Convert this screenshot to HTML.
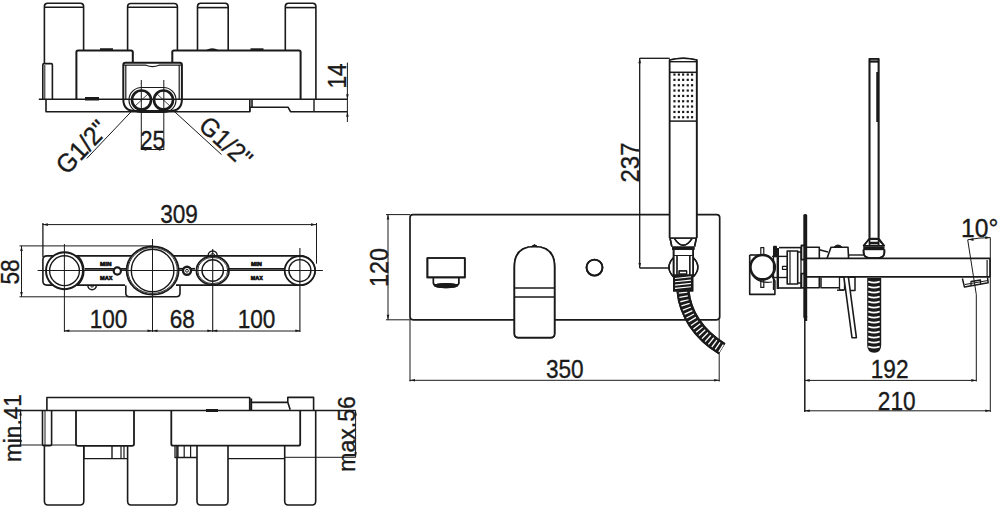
<!DOCTYPE html>
<html><head><meta charset="utf-8">
<style>
html,body{margin:0;padding:0;background:#fff;width:1000px;height:512px;overflow:hidden}
svg{display:block}
text{font-family:"Liberation Sans",sans-serif;fill:#1a1a1a;stroke:#1a1a1a;stroke-width:0.35px}
</style></head><body>
<svg width="1000" height="512" viewBox="0 0 1000 512">
<rect width="1000" height="512" fill="#fff"/>
<g fill="none" stroke="#1a1a1a" stroke-width="1.6" stroke-linejoin="round">

<!-- ============ VIEW A : top elevation ============ -->
<g id="A">
  <!-- handles -->
  <path d="M44.4,63 V6.5 Q44.4,3.2 47.5,3.2 H80.5 Q83.6,3.2 83.6,6.5 V50"/>
  <line x1="44.4" y1="7.3" x2="83.6" y2="7.3"/>
  <path d="M127.6,50 V6.5 Q127.6,3.5 130.8,3.5 H174.2 Q177.4,3.5 177.4,6.5 V50"/>
  <line x1="127.6" y1="7.3" x2="177.4" y2="7.3"/>
  <path d="M197.5,50 V6.5 Q197.5,3.2 200.6,3.2 H225.1 Q228.2,3.2 228.2,6.5 V50"/>
  <line x1="197.5" y1="7.6" x2="228.2" y2="7.6"/>
  <path d="M285.3,50 V6.5 Q285.3,3.2 288.4,3.2 H312.8 Q315.9,3.2 315.9,6.5 V99"/>
  <line x1="285.3" y1="7.6" x2="315.9" y2="7.6"/>
  <!-- body boxes -->
  <path d="M76.4,99 V52 Q76.4,50.4 78,50.4 H131 Q132.8,50.4 132.8,52 V62.7" stroke-width="2"/>
  <path d="M172.3,62.7 V52 Q172.3,50.4 174,50.4 H299 Q300.6,50.4 300.6,52 V99" stroke-width="2"/>
  <line x1="100" y1="49.5" x2="113" y2="49.5" stroke-width="2.5"/>
  <path d="M206.5,50.6 Q212.3,47.6 218,50.6" stroke-width="1.6"/>
  <line x1="250.5" y1="49.4" x2="263.5" y2="49.4" stroke-width="2.2"/>
  <!-- connection box -->
  <path d="M123.3,99 V65 Q123.3,62.7 125.5,62.7 H179.7 Q181.9,62.7 181.9,65 V99 Q181.9,111 170,111 H135 Q123.3,111 123.3,99 Z" stroke-width="2"/>
  <line x1="125.8" y1="65" x2="125.8" y2="99" stroke-width="1.2"/>
  <line x1="179.2" y1="65" x2="179.2" y2="99" stroke-width="1.2"/>
  <path d="M124,65.2 H146 Q152.5,68 159,65.2 H181" stroke-width="1.2"/>
  <!-- small post -->
  <path d="M42.8,99.6 V65 Q42.8,63.6 44,63.6 H51.2 Q52.4,63.6 52.4,65 V99.6"/>
  <line x1="44.8" y1="65" x2="44.8" y2="99" stroke-width="1"/>
  <!-- baseline and plate -->
  <line x1="38.8" y1="99.3" x2="347.4" y2="99.3" stroke-width="1.5"/>
  <path d="M46,99.3 V111.7 H249.8 V107.2 H288 L290.5,111.7 H347.4"/>
  <line x1="252" y1="99.3" x2="252" y2="107.2"/>
  <line x1="249.8" y1="99.3" x2="249.8" y2="111.7"/>
  <line x1="314" y1="99.3" x2="314" y2="111.7" stroke-width="1.4"/>
  <rect x="85" y="97" width="14" height="3.5" fill="#1a1a1a" stroke="none"/>
  <!-- fittings -->
  <path d="M141.5,87.5 H163.5 A12.5,12.5 0 0 1 163.5,112.5 H141.5 A12.5,12.5 0 0 1 141.5,87.5 Z" stroke-width="1.2"/>
  <circle cx="141.5" cy="100" r="9.5" stroke-width="2.6"/>
  <circle cx="163.5" cy="100" r="9.5" stroke-width="2.6"/>
  <line x1="141.3" y1="80" x2="141.3" y2="150" stroke-width="1"/>
  <line x1="163.8" y1="80" x2="163.8" y2="150" stroke-width="1"/>
  <line x1="134" y1="107" x2="149" y2="93" stroke-width="0.8"/>
  <line x1="156" y1="93" x2="171" y2="107" stroke-width="0.8"/>
  <!-- dims -->
  <line x1="347.4" y1="62.6" x2="347.4" y2="122" stroke-width="1"/>
  <line x1="141" y1="149.5" x2="164" y2="149.5" stroke-width="1"/>
  <line x1="132.4" y1="110.4" x2="86.8" y2="158.4" stroke-width="1"/>
  <line x1="173.2" y1="110.4" x2="221.5" y2="154.6" stroke-width="1"/>
</g>

<!-- ============ VIEW B : plan ============ -->
<g id="B">
  <!-- body outline -->
  <path d="M47,255.9 H300.3 A14.6,14.6 0 0 1 300.3,285.1 H176 M125,285.1 H47 Q42.9,285.1 42.9,281 V260 Q42.9,255.9 47,255.9" stroke-width="1.6"/>
  <path d="M78,255.9 A21,21 0 0 1 78,285.1" stroke-width="1.4"/>
  <circle cx="64.5" cy="270.7" r="18.5" fill="#fff" stroke-width="1.9"/>
  <circle cx="64.5" cy="270.7" r="14.9" stroke-width="1.4"/>
  <path d="M125.8,285.5 V293 Q125.8,296.8 129.5,296.8 H176.3 Q180,296.8 180,293 V285.5" stroke-width="1.6"/>
  <ellipse cx="152.6" cy="270.5" rx="26" ry="24.1" fill="#fff" stroke-width="1.8"/>
  <ellipse cx="152.6" cy="270.5" rx="24.7" ry="22.9" stroke-width="0.9"/>
  <circle cx="152.6" cy="270.5" r="21.3" stroke-width="1.4"/>
  <ellipse cx="212.7" cy="270.5" rx="16.3" ry="14.3" fill="#fff" stroke-width="1.8"/>
  <ellipse cx="212.7" cy="270.5" rx="15" ry="13.2" stroke-width="0.9"/>
  <circle cx="212.7" cy="270.5" r="10.7" stroke-width="1.4"/>
  <ellipse cx="299.9" cy="270.6" rx="15.2" ry="14.6" fill="#fff" stroke-width="1.8"/>
  <circle cx="299.9" cy="270.6" r="11" stroke-width="1.4"/>
  <path d="M208.2,255.5 A4.5,4.5 0 0 1 217.2,255.5" stroke-width="1.5"/>
  <path d="M210.7,255.5 A2,2 0 0 1 214.7,255.5" stroke-width="1"/>
  <path d="M87.9,285.6 A4.2,4.2 0 0 0 96.3,285.6" stroke-width="1.5"/>
  <path d="M90.6,285.6 A1.5,1.5 0 0 0 93.6,285.6" stroke-width="1"/>
  <!-- centre lines -->
  <line x1="37.6" y1="270.5" x2="322.9" y2="270.5" stroke-width="1"/>
  <line x1="84.8" y1="268.8" x2="126" y2="268.8" stroke-width="1.8"/>
  <line x1="229" y1="268.8" x2="284" y2="268.8" stroke-width="1.8"/>
  <line x1="179" y1="268.8" x2="195" y2="268.8" stroke-width="1.8"/>
  <circle cx="117.3" cy="271" r="3.6" fill="#fff" stroke-width="2.2"/>
  <circle cx="187" cy="270.8" r="4" fill="#fff" stroke-width="2.4"/>
  <circle cx="187" cy="270.8" r="1.4" stroke-width="1"/>
  <line x1="64.4" y1="244" x2="64.4" y2="332" stroke-width="1"/>
  <line x1="152.5" y1="239" x2="152.5" y2="332" stroke-width="1"/>
  <line x1="212.7" y1="249" x2="212.7" y2="332" stroke-width="1.1"/>
  <line x1="299.9" y1="248" x2="299.9" y2="332" stroke-width="1.1"/>
  <!-- MIN / MAX marks -->
  <g fill="#1a1a1a" stroke="none">
    <text x="105.8" y="265.8" font-size="6.2" font-weight="bold" style="stroke-width:0.7px" text-anchor="middle" textLength="11.5" lengthAdjust="spacingAndGlyphs">MIN</text>
    <text x="106.3" y="280.2" font-size="6.2" font-weight="bold" style="stroke-width:0.7px" text-anchor="middle" textLength="12.5" lengthAdjust="spacingAndGlyphs">MAX</text>
    <text x="256.4" y="265.8" font-size="6.2" font-weight="bold" style="stroke-width:0.7px" text-anchor="middle" textLength="11" lengthAdjust="spacingAndGlyphs">MIN</text>
    <text x="256.8" y="280.2" font-size="6.2" font-weight="bold" style="stroke-width:0.7px" text-anchor="middle" textLength="12" lengthAdjust="spacingAndGlyphs">MAX</text>
  </g>
  <!-- 309 dim -->
  <line x1="42.5" y1="224.6" x2="316.5" y2="224.6" stroke-width="1"/>
  <line x1="42.9" y1="223" x2="42.9" y2="257" stroke-width="1.3"/>
  <line x1="316.5" y1="223" x2="316.5" y2="263.7" stroke-width="1"/>
  <!-- 58 dim -->
  <line x1="21.5" y1="245.9" x2="21.5" y2="297" stroke-width="1"/>
  <line x1="19.5" y1="245.9" x2="152.5" y2="245.9" stroke-width="1"/>
  <line x1="19.5" y1="296.8" x2="152.5" y2="296.8" stroke-width="1"/>
  <!-- 100 68 100 dim -->
  <line x1="64.4" y1="331" x2="300.3" y2="331" stroke-width="1"/>
</g>

<!-- ============ VIEW C : bottom elevation ============ -->
<g id="C">
  <path d="M46.9,410.4 V397.5 H249.7 V410.4 M251.4,398.5 V410.4 M251.4,402.4 H287.8 V397.4 H313.6 V410.4 M287.8,402.2 L290.2,409.8"/>
  <line x1="19.3" y1="410.4" x2="355.6" y2="410.4" stroke-width="1.5"/>
  <line x1="20.6" y1="410.4" x2="20.6" y2="445" stroke-width="1"/>
  <line x1="19.3" y1="445" x2="76" y2="445" stroke-width="1"/>
  <line x1="355.6" y1="410.4" x2="355.6" y2="457.3" stroke-width="1"/>
  <line x1="285" y1="457.3" x2="355.6" y2="457.3" stroke-width="1"/>
  <!-- bodies -->
  <path d="M76,410.4 V444 Q76,445.8 78,445.8 H132 Q134,445.8 134,444 V410.4" stroke-width="1.8"/>
  <path d="M171.3,410.4 V444 Q171.3,445.7 173,445.7 H298.5 Q300.2,445.7 300.2,444 V410.4" stroke-width="1.8"/>
  <!-- small post -->
  <path d="M42.5,410.4 V444.5 Q42.5,445.8 44,445.8 H50 Q51.6,445.8 51.6,444.5 V410.4"/>
  <line x1="45" y1="411" x2="45" y2="445" stroke-width="1"/>
  <!-- handles -->
  <path d="M44.4,445.8 V501 Q44.4,505 48,505 H80 Q83.8,505 83.8,501 V445.8"/>
  <path d="M127.6,445.8 V501 Q127.6,505 131,505 H173.5 Q177,505 177,501 V445.8"/>
  <path d="M197,445.7 V501 Q197,505 200.5,505 H224.5 Q228,505 228,501 V445.7"/>
  <path d="M284.7,445.7 V501 Q284.7,505 288.2,505 H312.2 Q315.7,505 315.7,501 V410.4"/>
  <!-- under boxes -->
  <path d="M83.8,445.8 V458.6 H127.6" stroke-width="1.4"/>
  <line x1="112" y1="446" x2="112" y2="458.6" stroke-width="1.4"/>
  <line x1="121" y1="446" x2="121" y2="458.6" stroke-width="1.2"/>
  <line x1="124" y1="446" x2="124" y2="458.6" stroke-width="1.2"/>
  <path d="M228,458.6 H284.7" stroke-width="1.4"/>
  <path d="M175,446 V457.5 H197" stroke-width="1.3"/>
  <line x1="178" y1="446" x2="178" y2="457.5" stroke-width="1.2"/>
  <line x1="184.2" y1="446" x2="184.2" y2="457.5" stroke-width="1.2"/>
  <line x1="190.6" y1="446" x2="190.6" y2="457.5" stroke-width="1.2"/>
  <rect x="206" y="409" width="12" height="3" fill="#1a1a1a" stroke="none"/>
</g>

<!-- ============ VIEW D : front ============ -->
<g id="D">
  <rect x="410" y="214.6" width="309.7" height="105.2" rx="3" stroke-width="1.7"/>
  <!-- 120 dim -->
  <line x1="388" y1="214.6" x2="388" y2="319.8" stroke-width="1"/>
  <line x1="386" y1="214.6" x2="410" y2="214.6" stroke-width="1"/>
  <line x1="386" y1="319.8" x2="410" y2="319.8" stroke-width="1"/>
  <!-- 350 dim -->
  <line x1="410" y1="319.8" x2="410" y2="381.5" stroke-width="1"/>
  <line x1="719.2" y1="319.8" x2="719.2" y2="381.5" stroke-width="1"/>
  <line x1="409.5" y1="380.3" x2="719.6" y2="380.3" stroke-width="1"/>
  <!-- spout -->
  <rect x="427.4" y="258" width="37.4" height="19.4" stroke-width="1.7"/>
  <path d="M433.4,277.4 V283 Q433.4,285 436,285 H456 Q458.8,285 458.8,283 V277.4" stroke-width="1.4"/>
  <ellipse cx="446" cy="285.6" rx="12.3" ry="2.6" fill="#1a1a1a" stroke="none"/>
  <!-- lever -->
  <path d="M514.4,267 Q514.4,246.5 534.5,246.5 Q554.6,246.5 554.6,267 V333.5 Q554.6,337.6 550.5,337.6 H518.5 Q514.4,337.6 514.4,333.5 Z" fill="#fff" stroke-width="1.7"/>
  <path d="M531,246.8 L534.5,244.8 L538,246.8 Z" fill="#1a1a1a" stroke-width="1"/>
  <line x1="514.4" y1="288.1" x2="554.6" y2="288.1" stroke-width="1.5"/>
  <line x1="514.4" y1="297.1" x2="554.6" y2="297.1" stroke-width="1.5"/>
  <circle cx="594.5" cy="267.6" r="8" stroke-width="1.8"/>
  <!-- 237 dim -->
  <line x1="639.7" y1="58.3" x2="639.7" y2="268" stroke-width="1"/>
  <line x1="639.7" y1="58.3" x2="669.6" y2="58.3" stroke-width="1"/>
  <line x1="639.7" y1="268" x2="670" y2="268" stroke-width="1"/>
  <!-- hand shower -->
  <path d="M669.7,238 V60 Q683.2,56.5 696.7,60 V238" fill="#fff" stroke-width="1.7"/>
  <line x1="669.7" y1="61.7" x2="696.7" y2="61.7" stroke-width="1.4"/>
  <line x1="669.7" y1="72.3" x2="696.7" y2="72.3" stroke-width="1.5"/>
  <line x1="669.7" y1="121.1" x2="696.7" y2="121.1" stroke-width="1.5"/>
  <path d="M669.7,238 H696.7 M670,238 L671.8,246.5 M696.4,238 L694.6,246.5" stroke-width="1.5"/>
  <path d="M674.5,238.6 Q683.2,252 692,238.6" stroke-width="1.4"/>
  <rect x="672" y="246.5" width="22.5" height="3.3" fill="#1a1a1a" stroke="none"/>
  <path d="M673.6,249.8 V277 M693.2,249.8 V277" stroke-width="1.6"/>
  <path d="M677,256 V276 M689.8,256 V276 M673.6,255.5 H693.2" stroke-width="1.2"/>
  <path d="M673.4,257.8 Q664.5,267.3 673.4,276.8" stroke-width="1.4"/>
  <path d="M693.4,257.8 Q702.3,267.3 693.4,276.8" stroke-width="1.4"/>
  <rect x="679.1" y="270.8" width="7.5" height="3.4" stroke-width="1.2"/>
  <!-- hose -->
  <path d="M683,291 C685,313 698,334 722,348.8" stroke="#1a1a1a" stroke-width="13" stroke-linecap="butt"/>
  <path d="M683,292 C685,313 698,334 722,348.8" stroke="#fff" stroke-width="8.5" stroke-dasharray="1.3 2.8"/>
  <rect x="673" y="274.5" width="20.3" height="17" fill="#1a1a1a" stroke="none"/>
  <g stroke="#fff" stroke-width="1.1"><line x1="675" y1="278.5" x2="691" y2="276.8"/><line x1="675" y1="281.8" x2="691" y2="280.1"/><line x1="675" y1="285.1" x2="691" y2="283.4"/><line x1="675" y1="288.4" x2="691" y2="286.7"/></g>

  <g fill="#1a1a1a" stroke="none"><rect x="673.35" y="73.45" width="2.2" height="2.2"/><rect x="677.75" y="73.45" width="2.2" height="2.2"/><rect x="682.05" y="73.45" width="2.2" height="2.2"/><rect x="686.65" y="73.45" width="2.2" height="2.2"/><rect x="690.95" y="73.45" width="2.2" height="2.2"/><rect x="673.35" y="78.75" width="2.2" height="2.2"/><rect x="677.75" y="78.75" width="2.2" height="2.2"/><rect x="682.05" y="78.75" width="2.2" height="2.2"/><rect x="686.65" y="78.75" width="2.2" height="2.2"/><rect x="690.95" y="78.75" width="2.2" height="2.2"/><rect x="673.35" y="84.15" width="2.2" height="2.2"/><rect x="677.75" y="84.15" width="2.2" height="2.2"/><rect x="682.05" y="84.15" width="2.2" height="2.2"/><rect x="686.65" y="84.15" width="2.2" height="2.2"/><rect x="690.95" y="84.15" width="2.2" height="2.2"/><rect x="673.35" y="89.45" width="2.2" height="2.2"/><rect x="677.75" y="89.45" width="2.2" height="2.2"/><rect x="682.05" y="89.45" width="2.2" height="2.2"/><rect x="686.65" y="89.45" width="2.2" height="2.2"/><rect x="690.95" y="89.45" width="2.2" height="2.2"/><rect x="673.35" y="94.85" width="2.2" height="2.2"/><rect x="677.75" y="94.85" width="2.2" height="2.2"/><rect x="682.05" y="94.85" width="2.2" height="2.2"/><rect x="686.65" y="94.85" width="2.2" height="2.2"/><rect x="690.95" y="94.85" width="2.2" height="2.2"/><rect x="673.35" y="100.15" width="2.2" height="2.2"/><rect x="677.75" y="100.15" width="2.2" height="2.2"/><rect x="682.05" y="100.15" width="2.2" height="2.2"/><rect x="686.65" y="100.15" width="2.2" height="2.2"/><rect x="690.95" y="100.15" width="2.2" height="2.2"/><rect x="673.35" y="105.45" width="2.2" height="2.2"/><rect x="677.75" y="105.45" width="2.2" height="2.2"/><rect x="682.05" y="105.45" width="2.2" height="2.2"/><rect x="686.65" y="105.45" width="2.2" height="2.2"/><rect x="690.95" y="105.45" width="2.2" height="2.2"/><rect x="673.35" y="110.85" width="2.2" height="2.2"/><rect x="677.75" y="110.85" width="2.2" height="2.2"/><rect x="682.05" y="110.85" width="2.2" height="2.2"/><rect x="686.65" y="110.85" width="2.2" height="2.2"/><rect x="690.95" y="110.85" width="2.2" height="2.2"/><rect x="673.35" y="116.15" width="2.2" height="2.2"/><rect x="677.75" y="116.15" width="2.2" height="2.2"/><rect x="682.05" y="116.15" width="2.2" height="2.2"/><rect x="686.65" y="116.15" width="2.2" height="2.2"/><rect x="690.95" y="116.15" width="2.2" height="2.2"/></g>
</g>

<!-- ============ VIEW E : side ============ -->
<g id="E">
  <!-- vertical shower rod -->
  <path d="M869.5,245.5 V58.8 H878.6 V245.5" stroke-width="1.7"/>
  <line x1="869.5" y1="61.5" x2="878.6" y2="61.5" stroke-width="1.8"/>
  <line x1="877.6" y1="72" x2="877.6" y2="122" stroke-width="2.2"/>
  <line x1="869.5" y1="238.5" x2="878.6" y2="238.5" stroke-width="1.5"/>
  <line x1="869.5" y1="243.6" x2="878.6" y2="243.6" stroke-width="1.5"/>
  <path d="M869.5,238.2 L863.7,245.8 H884.3 L878.6,238.2" stroke-width="1.6"/>
  <rect x="863.5" y="247" width="21" height="3.2" fill="#1a1a1a" stroke="none"/>
  <path d="M863.7,250.3 V252.5 Q863.7,258 871,258 H877 Q884.3,258 884.3,252.5 V250.3" stroke-width="1.7"/>
  <!-- spout -->
  <rect x="427.4" y="258" width="37.4" height="19.4" stroke-width="1.7"/>
  <path d="M433.4,277.4 V283 Q433.4,285 436,285 H456 Q458.8,285 458.8,283 V277.4" stroke-width="1.4"/>
  <ellipse cx="446" cy="285.6" rx="12.3" ry="2.6" fill="#1a1a1a" stroke="none"/>
  <!-- lever -->
  <path d="M514.4,267 Q514.4,246.5 534.5,246.5 Q554.6,246.5 554.6,267 V333.5 Q554.6,337.6 550.5,337.6 H518.5 Q514.4,337.6 514.4,333.5 Z" fill="#fff" stroke-width="1.7"/>
  <path d="M531,246.8 L534.5,244.8 L538,246.8 Z" fill="#1a1a1a" stroke-width="1"/>
  <line x1="514.4" y1="288.1" x2="554.6" y2="288.1" stroke-width="1.5"/>
  <line x1="514.4" y1="297.1" x2="554.6" y2="297.1" stroke-width="1.5"/>
  <circle cx="594.5" cy="267.6" r="8" stroke-width="1.8"/>
  <!-- 237 dim -->
  <line x1="639.7" y1="58.3" x2="639.7" y2="268" stroke-width="1"/>
  <line x1="639.7" y1="58.3" x2="669.6" y2="58.3" stroke-width="1"/>
  <line x1="639.7" y1="268" x2="670" y2="268" stroke-width="1"/>
  <!-- hand shower -->
  <path d="M669.7,238 V60 Q683.2,56.5 696.7,60 V238" fill="#fff" stroke-width="1.7"/>
  <line x1="669.7" y1="61.7" x2="696.7" y2="61.7" stroke-width="1.4"/>
  <line x1="669.7" y1="72.3" x2="696.7" y2="72.3" stroke-width="1.5"/>
  <line x1="669.7" y1="121.1" x2="696.7" y2="121.1" stroke-width="1.5"/>
  <path d="M669.7,238 H696.7 M670,238 L671.8,246.5 M696.4,238 L694.6,246.5" stroke-width="1.5"/>
  <path d="M674.5,238.6 Q683.2,252 692,238.6" stroke-width="1.4"/>
  <rect x="672" y="246.5" width="22.5" height="3.3" fill="#1a1a1a" stroke="none"/>
  <path d="M673.6,249.8 V277 M693.2,249.8 V277" stroke-width="1.6"/>
  <path d="M677,256 V276 M689.8,256 V276 M673.6,255.5 H693.2" stroke-width="1.2"/>
  <path d="M673.4,257.8 Q664.5,267.3 673.4,276.8" stroke-width="1.4"/>
  <path d="M693.4,257.8 Q702.3,267.3 693.4,276.8" stroke-width="1.4"/>
  <rect x="679.1" y="270.8" width="7.5" height="3.4" stroke-width="1.2"/>
  <!-- hose -->
  <path d="M683,291 C685,313 698,334 722,348.8" stroke="#1a1a1a" stroke-width="13" stroke-linecap="butt"/>
  <path d="M683,292 C685,313 698,334 722,348.8" stroke="#fff" stroke-width="8.5" stroke-dasharray="1.3 2.8"/>
  <rect x="673" y="274.5" width="20.3" height="17" fill="#1a1a1a" stroke="none"/>
  <g stroke="#fff" stroke-width="1.1"><line x1="675" y1="278.5" x2="691" y2="276.8"/><line x1="675" y1="281.8" x2="691" y2="280.1"/><line x1="675" y1="285.1" x2="691" y2="283.4"/><line x1="675" y1="288.4" x2="691" y2="286.7"/></g>

  <g fill="#1a1a1a" stroke="none"><rect x="673.35" y="73.45" width="2.2" height="2.2"/><rect x="677.75" y="73.45" width="2.2" height="2.2"/><rect x="682.05" y="73.45" width="2.2" height="2.2"/><rect x="686.65" y="73.45" width="2.2" height="2.2"/><rect x="690.95" y="73.45" width="2.2" height="2.2"/><rect x="673.35" y="78.75" width="2.2" height="2.2"/><rect x="677.75" y="78.75" width="2.2" height="2.2"/><rect x="682.05" y="78.75" width="2.2" height="2.2"/><rect x="686.65" y="78.75" width="2.2" height="2.2"/><rect x="690.95" y="78.75" width="2.2" height="2.2"/><rect x="673.35" y="84.15" width="2.2" height="2.2"/><rect x="677.75" y="84.15" width="2.2" height="2.2"/><rect x="682.05" y="84.15" width="2.2" height="2.2"/><rect x="686.65" y="84.15" width="2.2" height="2.2"/><rect x="690.95" y="84.15" width="2.2" height="2.2"/><rect x="673.35" y="89.45" width="2.2" height="2.2"/><rect x="677.75" y="89.45" width="2.2" height="2.2"/><rect x="682.05" y="89.45" width="2.2" height="2.2"/><rect x="686.65" y="89.45" width="2.2" height="2.2"/><rect x="690.95" y="89.45" width="2.2" height="2.2"/><rect x="673.35" y="94.85" width="2.2" height="2.2"/><rect x="677.75" y="94.85" width="2.2" height="2.2"/><rect x="682.05" y="94.85" width="2.2" height="2.2"/><rect x="686.65" y="94.85" width="2.2" height="2.2"/><rect x="690.95" y="94.85" width="2.2" height="2.2"/><rect x="673.35" y="100.15" width="2.2" height="2.2"/><rect x="677.75" y="100.15" width="2.2" height="2.2"/><rect x="682.05" y="100.15" width="2.2" height="2.2"/><rect x="686.65" y="100.15" width="2.2" height="2.2"/><rect x="690.95" y="100.15" width="2.2" height="2.2"/><rect x="673.35" y="105.45" width="2.2" height="2.2"/><rect x="677.75" y="105.45" width="2.2" height="2.2"/><rect x="682.05" y="105.45" width="2.2" height="2.2"/><rect x="686.65" y="105.45" width="2.2" height="2.2"/><rect x="690.95" y="105.45" width="2.2" height="2.2"/><rect x="673.35" y="110.85" width="2.2" height="2.2"/><rect x="677.75" y="110.85" width="2.2" height="2.2"/><rect x="682.05" y="110.85" width="2.2" height="2.2"/><rect x="686.65" y="110.85" width="2.2" height="2.2"/><rect x="690.95" y="110.85" width="2.2" height="2.2"/><rect x="673.35" y="116.15" width="2.2" height="2.2"/><rect x="677.75" y="116.15" width="2.2" height="2.2"/><rect x="682.05" y="116.15" width="2.2" height="2.2"/><rect x="686.65" y="116.15" width="2.2" height="2.2"/><rect x="690.95" y="116.15" width="2.2" height="2.2"/></g>
</g>

<!-- ============ VIEW E : side ============ -->
<g id="E">
  <!-- vertical shower rod -->
  <path d="M869.5,237.6 V58.8 H878.6 V237.6" stroke-width="1.6"/>
  <line x1="869.5" y1="61.5" x2="878.6" y2="61.5" stroke-width="1.8"/>
  <line x1="877.6" y1="72" x2="877.6" y2="122" stroke-width="2.2"/>
  <line x1="869.3" y1="239.3" x2="878.1" y2="239.3" stroke-width="1.5"/>
  <line x1="869.3" y1="242.5" x2="878.1" y2="242.5" stroke-width="1.5"/>
  <path d="M869.3,239.3 L863.5,245.8 H884 L878.1,239.3" stroke-width="1.5"/>
  <rect x="863.5" y="246.5" width="20.5" height="3" fill="#1a1a1a" stroke="none"/>
  <path d="M863.5,249.3 V252 Q863.5,258 870,258 H878 Q884.5,258 884.5,252 V249.3" stroke-width="1.6"/>
  <!-- spout -->
  <line x1="806" y1="258.3" x2="990" y2="258.3" stroke-width="1.8"/>
  <line x1="806" y1="276.8" x2="990" y2="276.8" stroke-width="1.8"/>
  <line x1="990" y1="258.3" x2="990" y2="276.8" stroke-width="1.6"/>
  <line x1="987.1" y1="260" x2="987.1" y2="276" stroke-width="1.2"/>
  <path d="M962.4,278.5 L964.5,287.1 L988.2,282.8 L987.5,277.5" stroke-width="1.5"/>
  <path d="M971,286 V281.5 L980.5,280 V284.5" stroke-width="1.3"/>
  <line x1="965" y1="284.5" x2="988" y2="280.5" stroke-width="1.2"/>
  <!-- wall plate -->
  <rect x="803.3" y="214" width="3.9" height="104.5" rx="1.5" fill="#1a1a1a" stroke="none"/>
  <rect x="804.3" y="316" width="2.9" height="5" fill="#1a1a1a" stroke="none"/>
  <path d="M804,245.5 H801.4 V259.6 H804 M804,273.7 H801.4 V287.8 H804" stroke-width="1.8"/>
  <!-- left assembly -->
  <path d="M749.7,255 V294.4 H774.9 V281 L770,272" stroke-width="1.6"/>
  <line x1="749.7" y1="255" x2="766" y2="255" stroke-width="1.6"/>
  <circle cx="762.6" cy="267.2" r="12.2" fill="#fff" stroke-width="2.6"/>
  <path d="M753,276 Q760,284 772,282" stroke-width="1.2"/>
  <rect x="760.8" y="247.6" width="3" height="7" stroke-width="1.2"/>
  <rect x="760.8" y="279.8" width="3" height="7.6" stroke-width="1.2"/>
  <rect x="773" y="245.7" width="4" height="11.6" rx="1" fill="#1a1a1a" stroke="none"/>
  <line x1="773.5" y1="257" x2="773.5" y2="290" stroke-width="1.3"/>
  <line x1="777.8" y1="248" x2="777.8" y2="289" stroke-width="2.4"/>
  <line x1="779" y1="247.6" x2="801.2" y2="247.6" stroke-width="1.6"/>
  <line x1="779" y1="288" x2="801.2" y2="288" stroke-width="1.6"/>
  <line x1="772" y1="256.4" x2="787.2" y2="256.4" stroke-width="1.4"/>
  <line x1="772" y1="277.5" x2="787.2" y2="277.5" stroke-width="1.4"/>
  <rect x="787.2" y="251" width="10.5" height="33" stroke-width="1.6"/>
  <line x1="790" y1="251" x2="790" y2="284" stroke-width="1.2"/>
  <rect x="782.5" y="266.3" width="4.7" height="3" stroke-width="1.2"/>
  <path d="M797.7,252 H801 M797.7,283 H801" stroke-width="1.3"/>
  <line x1="801" y1="247.6" x2="801" y2="288" stroke-width="1.3"/>
  <!-- right of plate -->
  <path d="M806.4,247.3 H819.3 V258.4" stroke-width="1.6"/>
  <path d="M819.3,249.8 L828,252" stroke-width="1.4"/>
  <path d="M827,258.4 L831,247.3 H848 L848.6,258.4" stroke-width="1.6"/>
  <path d="M834,247 Q838,243 842,247" fill="#1a1a1a" stroke-width="1"/>
  <path d="M848.6,255 H863.5" stroke-width="1.4"/>
  <path d="M806.4,287.8 H819.3 V276.8" stroke-width="1.6"/>
  <path d="M821,277.8 V287.8 H839.3" stroke-width="1.5"/>
  <rect x="848.3" y="277.2" width="6.7" height="13.3" stroke-width="1.5"/>
  <rect x="839.5" y="277.2" width="5" height="12.6" stroke-width="1.3"/>
  <path d="M837,290.2 H844" stroke-width="1.4"/>
  <path d="M844,278 L852,337.7 H856.4 L848.5,278" fill="#fff" stroke-width="1.6"/>
  <!-- hose spring -->
  <path d="M867.2,278 V345 Q867.2,352.7 874.2,352.7 Q881.2,352.7 881.2,345 V278 Z" fill="#1a1a1a" stroke="none"/>
  <g stroke="#fff" stroke-width="1.7"><path d="M868.3,281.5 Q874,283.9 879.7,281.5"/><path d="M868.3,286.5 Q874,288.9 879.7,286.5"/><path d="M868.3,291.5 Q874,293.9 879.7,291.5"/><path d="M868.3,296.5 Q874,298.9 879.7,296.5"/><path d="M868.3,301.5 Q874,303.9 879.7,301.5"/><path d="M868.3,306.5 Q874,308.9 879.7,306.5"/><path d="M868.3,311.5 Q874,313.9 879.7,311.5"/><path d="M868.3,316.5 Q874,318.9 879.7,316.5"/><path d="M868.3,321.5 Q874,323.9 879.7,321.5"/><path d="M868.3,326.5 Q874,328.9 879.7,326.5"/><path d="M868.3,331.5 Q874,333.9 879.7,331.5"/><path d="M868.3,336.5 Q874,338.9 879.7,336.5"/><path d="M868.3,341.5 Q874,343.9 879.7,341.5"/><path d="M868.3,346.5 Q874,348.9 879.7,346.5"/></g>
  <!-- 10 deg -->
  <line x1="990.3" y1="237.6" x2="990.3" y2="412" stroke-width="1"/>
  <line x1="967.7" y1="239.8" x2="976.3" y2="294.6" stroke-width="1"/>
  <line x1="976.3" y1="294.6" x2="976.3" y2="381.5" stroke-width="1"/>
  <path d="M967.7,239.8 Q979,237.5 990.3,237.6" stroke-width="1"/>
  <!-- dims -->
  <line x1="804.8" y1="318" x2="804.8" y2="412" stroke-width="1.5"/>
  <line x1="804.7" y1="380.4" x2="976.3" y2="380.4" stroke-width="1"/>
  <line x1="804.7" y1="410.8" x2="990.5" y2="410.8" stroke-width="1"/>
</g>

</g>
<g id="arrows" fill="#1a1a1a" stroke="none"><polygon points="42.9,224.6 47.9,223.3 47.9,225.9"/><polygon points="316.0,224.6 311.0,223.3 311.0,225.9"/><polygon points="21.5,246.0 20.2,251.0 22.8,251.0"/><polygon points="21.5,297.0 20.2,292.0 22.8,292.0"/><polygon points="64.4,330.7 69.4,329.4 69.4,332.0"/><polygon points="152.5,330.7 147.5,329.4 147.5,332.0"/><polygon points="152.5,330.7 157.5,329.4 157.5,332.0"/><polygon points="212.3,330.7 207.3,329.4 207.3,332.0"/><polygon points="212.3,330.7 217.3,329.4 217.3,332.0"/><polygon points="300.3,330.7 295.3,329.4 295.3,332.0"/><polygon points="141.3,149.5 146.3,148.2 146.3,150.8"/><polygon points="163.8,149.5 158.8,148.2 158.8,150.8"/><polygon points="347.4,99.3 346.1,94.3 348.7,94.3"/><polygon points="347.4,111.7 346.1,116.7 348.7,116.7"/><polygon points="20.6,410.4 19.3,415.4 21.9,415.4"/><polygon points="20.6,445.0 19.3,440.0 21.9,440.0"/><polygon points="355.6,410.4 354.3,415.4 356.9,415.4"/><polygon points="355.6,457.3 354.3,452.3 356.9,452.3"/><polygon points="388.0,214.6 386.7,219.6 389.3,219.6"/><polygon points="388.0,319.8 386.7,314.8 389.3,314.8"/><polygon points="410.0,380.3 415.0,379.0 415.0,381.6"/><polygon points="719.2,380.3 714.2,379.0 714.2,381.6"/><polygon points="639.7,58.3 638.4,63.3 641.0,63.3"/><polygon points="639.7,268.0 638.4,263.0 641.0,263.0"/><polygon points="804.7,380.4 809.7,379.1 809.7,381.7"/><polygon points="976.3,380.4 971.3,379.1 971.3,381.7"/><polygon points="804.7,410.8 809.7,409.5 809.7,412.1"/><polygon points="990.3,410.8 985.3,409.5 985.3,412.1"/><polygon points="968.5,239.6 973.5,238.3 973.5,240.9"/><polygon points="990.3,237.6 985.3,236.3 985.3,238.9"/></g>
<g id="texts">
  <text transform="translate(152.6,148.7) scale(0.87,1)" font-size="26" text-anchor="middle">25</text>
  <text transform="translate(345.8,75.9) rotate(-90) scale(0.87,1)" font-size="26" text-anchor="middle">14</text>
  <text transform="translate(88.4,153.2) rotate(-46.5) scale(0.95,1)" font-size="26" text-anchor="middle">G1/2"</text>
  <text transform="translate(219.8,148.4) rotate(42.5) scale(0.93,1)" font-size="26" text-anchor="middle">G1/2"</text>
  <text transform="translate(179,222.8) scale(0.87,1)" font-size="26" text-anchor="middle">309</text>
  <text transform="translate(19.1,271.9) rotate(-90) scale(0.87,1)" font-size="26" text-anchor="middle">58</text>
  <text transform="translate(108.5,328) scale(0.87,1)" font-size="26" text-anchor="middle">100</text>
  <text transform="translate(182.3,328) scale(0.87,1)" font-size="26" text-anchor="middle">68</text>
  <text transform="translate(256.5,328) scale(0.87,1)" font-size="26" text-anchor="middle">100</text>
  <text transform="translate(20.9,428.1) rotate(-90) scale(0.96,1)" font-size="23.5" text-anchor="middle">min.41</text>
  <text transform="translate(355.3,434) rotate(-90) scale(0.98,1)" font-size="23.5" text-anchor="middle">max.56</text>
  <text transform="translate(387.5,267.6) rotate(-90) scale(0.9,1)" font-size="26" text-anchor="middle">120</text>
  <text transform="translate(564.8,378.4) scale(0.87,1)" font-size="26" text-anchor="middle">350</text>
  <text transform="translate(638.7,162.5) rotate(-90) scale(0.92,1)" font-size="26" text-anchor="middle">237</text>
  <text transform="translate(889.6,378.4) scale(0.87,1)" font-size="26" text-anchor="middle">192</text>
  <text transform="translate(896.7,409.5) scale(0.87,1)" font-size="26" text-anchor="middle">210</text>
  <text transform="translate(979.6,237.4) scale(0.95,1)" font-size="26" text-anchor="middle">10°</text>
</g>
</svg>
</body></html>
